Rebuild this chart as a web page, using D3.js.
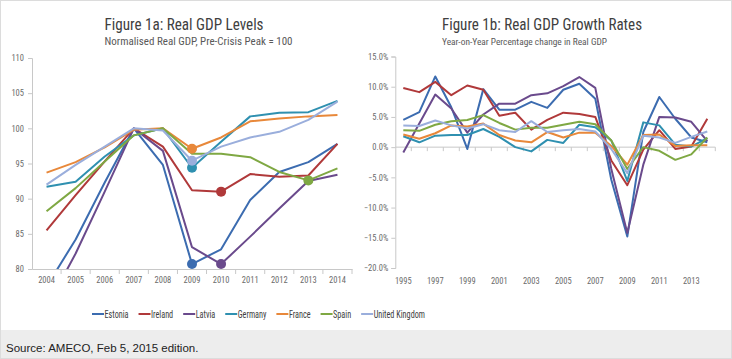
<!DOCTYPE html>
<html><head><meta charset="utf-8">
<script src="https://cdn.jsdelivr.net/npm/d3@7"></script>
<style>
html,body{margin:0;padding:0;background:#fff;}
svg{display:block;}
</style></head>
<body>
<svg id="chart" width="732" height="359"></svg>
<script>
// ---------- DATA ----------
const countries = ["Estonia","Ireland","Latvia","Germany","France","Spain","United Kingdom"];
const colors = ["#3c6cb0","#b0393a","#6a4a8c","#2f90b0","#e8883a","#7fa843","#9aaedc"];

const levelYears = ["2004","2005","2006","2007","2008","2009","2010","2011","2012","2013","2014"];
const estoniaLvl = [77.5, 84.2, 92.3, 100, 94.8, 80.7, 82.8, 89.8, 93.8, 95.2, 97.8];
const irelandLvl = [85.5, 90.5, 95.3, 100, 97.4, 91.2, 91.0, 93.5, 93.1, 93.3, 97.8];
const latviaLvl  = [74.5, 82.2, 91.0, 100, 96.8, 83.1, 80.7, 84.6, 88.6, 92.5, 93.4];
const germanyLvl = [91.7, 92.4, 96.0, 99.0, 100, 94.4, 98.1, 101.7, 102.2, 102.3, 103.9];
const franceLvl  = [93.7, 95.2, 97.3, 99.8, 100, 97.1, 98.7, 101.0, 101.4, 101.7, 101.9];
const spainLvl   = [88.2, 91.5, 95.3, 99.0, 100, 96.4, 96.4, 95.9, 93.8, 92.6, 94.3];
const ukLvl      = [92.0, 94.8, 97.4, 100, 99.7, 95.4, 97.4, 98.7, 99.5, 101.2, 103.8];
const troughYears = ["2009","2010","2010","2009","2009","2013","2009"];
const levelTicks = [80, 85, 90, 95, 100, 105, 110];

const growthYears = ["1995","1996","1997","1998","1999","2000","2001","2002","2003","2004",
                     "2005","2006","2007","2008","2009","2010","2011","2012","2013","2014"];
const estoniaGr = [4.5, 5.8, 11.7, 6.6, -0.3, 9.6, 6.2, 6.2, 7.5, 6.5, 9.5, 10.5, 8.0, -5.4, -14.8, 2.5, 8.3, 4.7, 1.6, 0.8];
const irelandGr = [9.8, 9.1, 10.8, 8.6, 10.2, 9.5, 5.2, 5.7, 2.9, 4.5, 5.7, 5.5, 5.0, -2.2, -6.3, -0.4, 2.8, -0.3, 0.1, 4.7];
const latviaGr  = [-0.9, 3.9, 8.7, 6.4, 2.4, 5.4, 7.2, 7.2, 8.6, 8.9, 10.1, 11.6, 9.8, -3.6, -14.2, -2.9, 5.0, 4.9, 4.2, 1.0];
const germanyGr = [1.8, 0.8, 1.9, 2.0, 2.0, 3.0, 1.7, 0.0, -0.7, 1.2, 0.7, 3.7, 3.3, 1.1, -5.6, 4.1, 3.6, 0.4, 0.1, 1.5];
const franceGr  = [2.1, 1.4, 2.3, 3.6, 3.4, 3.9, 2.0, 1.1, 0.8, 2.5, 1.6, 2.4, 2.4, 0.2, -2.9, 2.0, 2.1, 0.2, 0.3, 0.3];
const spainGr   = [2.8, 2.7, 3.7, 4.3, 4.5, 5.3, 4.0, 2.9, 3.2, 3.2, 3.7, 4.2, 3.8, 1.1, -3.6, 0.0, -0.6, -2.1, -1.2, 1.6];
const ukGr      = [3.6, 3.5, 4.4, 3.6, 3.1, 3.8, 2.8, 2.5, 4.3, 2.5, 2.8, 3.0, 2.6, -0.3, -4.3, 1.9, 1.6, 0.7, 1.7, 2.6];
const growthTicks = [-20, -15, -10, -5, 0, 5, 10, 15];
const growthLabelYears = ["1995","1997","1999","2001","2003","2005","2007","2009","2011","2013"];

const levelSeries = [estoniaLvl, irelandLvl, latviaLvl, germanyLvl, franceLvl, spainLvl, ukLvl];
const growthSeries = [estoniaGr, irelandGr, latviaGr, germanyGr, franceGr, spainGr, ukGr];

// ---------- DRAW ----------
const svg = d3.select("#chart");
const FONT = "'Liberation Sans Narrow','Roboto Condensed',Roboto,'Open Sans',sans-serif";
const axisColor = "#c8c8c8";
const labelColor = "#6b6b6b";

function fitText(sel, w) {
  const n = sel.node();
  if (n.getComputedTextLength() > w) sel.attr("textLength", w).attr("lengthAdjust","spacingAndGlyphs");
  return sel;
}

svg.append("rect").attr("x",0.5).attr("y",0.5).attr("width",731).attr("height",358)
  .attr("fill","#fff").attr("stroke","#dcdcdc");
svg.append("rect").attr("x",1).attr("y",330).attr("width",730).attr("height",28).attr("fill","#ededed");
svg.append("text").attr("x",6).attr("y",352).attr("font-family","'Liberation Sans',Arial,sans-serif")
  .attr("font-size",11.5).attr("fill","#222").text("Source: AMECO, Feb 5, 2015 edition.");

const defs = svg.append("defs");

// ---- Left panel
{
  const x = d3.scaleBand().domain(levelYears).range([32, 352]).padding(0);
  const y = d3.scaleLinear().domain([80, 110]).range([269, 58]);
  defs.append("clipPath").attr("id","clipL").append("rect")
    .attr("x",32).attr("y",50).attr("width",330).attr("height",219);

  const g = svg.append("g");
  fitText(g.append("text").attr("x",104.5).attr("y",30)
    .attr("font-family",FONT).attr("font-size",16).attr("fill","#404040").text("Figure 1a: Real GDP Levels"), 159);
  fitText(g.append("text").attr("x",104.5).attr("y",45)
    .attr("font-family",FONT).attr("font-size",11).attr("fill","#595959").text("Normalised Real GDP, Pre-Crisis Peak = 100"), 189);

  const ya = g.append("g").attr("transform","translate(32,0)")
    .call(d3.axisLeft(y).tickValues(levelTicks).tickSize(4).tickPadding(4).tickFormat(d3.format("d")));
  ya.select(".domain").attr("stroke",axisColor);
  ya.selectAll(".tick line").attr("stroke",axisColor);
  ya.selectAll("text").attr("font-family",FONT).attr("font-size",8.5).attr("fill",labelColor);

  const xa = g.append("g").attr("transform","translate(0,269)")
    .call(d3.axisBottom(x).tickSize(0).tickPadding(8));
  xa.select(".domain").attr("stroke",axisColor);
  xa.selectAll("text").attr("font-family",FONT).attr("font-size",8.5).attr("fill",labelColor);
  g.append("g").selectAll("line").data(levelYears.slice(1).concat(["end"])).join("line")
    .attr("x1",d=> d==="end" ? x.range()[1] : x(d)).attr("x2",d=> d==="end" ? x.range()[1] : x(d))
    .attr("y1",269).attr("y2",274).attr("stroke",axisColor);

  const line = d3.line().x((d,i)=>x(levelYears[i])+x.bandwidth()/2).y(d=>y(d));
  const lg = g.append("g").attr("clip-path","url(#clipL)");
  levelSeries.forEach((s,k)=>{
    lg.append("path").attr("d",line(s)).attr("fill","none").attr("stroke",colors[k])
      .attr("stroke-width",2).attr("stroke-linejoin","round");
  });
  levelSeries.forEach((s,k)=>{
    const idx = levelYears.indexOf(troughYears[k]);
    g.append("circle").attr("cx",x(troughYears[k])+x.bandwidth()/2).attr("cy",y(s[idx]))
      .attr("r",5).attr("fill",colors[k]);
  });
}

// ---- Right panel
{
  const x = d3.scaleBand().domain(growthYears).range([395.3, 715.3]).padding(0);
  const y = d3.scaleLinear().domain([-20, 15]).range([268, 56.5]);
  const g = svg.append("g");
  fitText(g.append("text").attr("x",442).attr("y",30)
    .attr("font-family",FONT).attr("font-size",16).attr("fill","#404040").text("Figure 1b: Real GDP Growth Rates"), 200);
  fitText(g.append("text").attr("x",442).attr("y",45)
    .attr("font-family",FONT).attr("font-size",9.5).attr("fill","#595959").text("Year-on-Year Percentage change in Real GDP"), 165);

  const ya = g.append("g").attr("transform","translate(395.3,0)")
    .call(d3.axisLeft(y).tickValues(growthTicks).tickSize(4).tickPadding(3).tickFormat(d=>d3.format(".1f")(d)+"%"));
  ya.select(".domain").attr("stroke",axisColor);
  ya.selectAll(".tick line").attr("stroke",axisColor);
  ya.selectAll("text").attr("font-family",FONT).attr("font-size",8.5).attr("fill",labelColor);

  const z = y(0);
  g.append("line").attr("x1",x.range()[0]).attr("x2",x.range()[1]).attr("y1",z).attr("y2",z).attr("stroke",axisColor);
  g.append("g").selectAll("line").data(growthYears.slice(1).concat(["end"])).join("line")
    .attr("x1",d=> d==="end" ? x.range()[1] : x(d)).attr("x2",d=> d==="end" ? x.range()[1] : x(d))
    .attr("y1",z).attr("y2",z+4).attr("stroke",axisColor);

  const xa = g.append("g").attr("transform","translate(0,268)")
    .call(d3.axisBottom(x).tickValues(growthLabelYears).tickSize(0).tickPadding(10));
  xa.select(".domain").remove();
  xa.selectAll("text").attr("font-family",FONT).attr("font-size",8.5).attr("fill",labelColor);

  const line = d3.line().x((d,i)=>x(growthYears[i])+x.bandwidth()/2).y(d=>y(d));
  growthSeries.forEach((s,k)=>{
    g.append("path").attr("d",line(s)).attr("fill","none").attr("stroke",colors[k])
      .attr("stroke-width",2).attr("stroke-linejoin","round");
  });
}

// ---- Legend
{
  const lg = svg.append("g");
  let cx = 92;
  countries.forEach((c,k)=>{
    lg.append("line").attr("x1",cx).attr("x2",cx+12).attr("y1",314).attr("y2",314)
      .attr("stroke",colors[k]).attr("stroke-width",2);
    const t = lg.append("text").attr("x",cx+12.5).attr("y",318).attr("font-family",FONT)
      .attr("font-size",10.5).attr("fill","#404040").text(c);
    const w = t.node().getComputedTextLength() * 0.78;
    t.attr("textLength", w).attr("lengthAdjust","spacingAndGlyphs");
    cx += 12.5 + w + 10;
  });
}
</script>
</body></html>
